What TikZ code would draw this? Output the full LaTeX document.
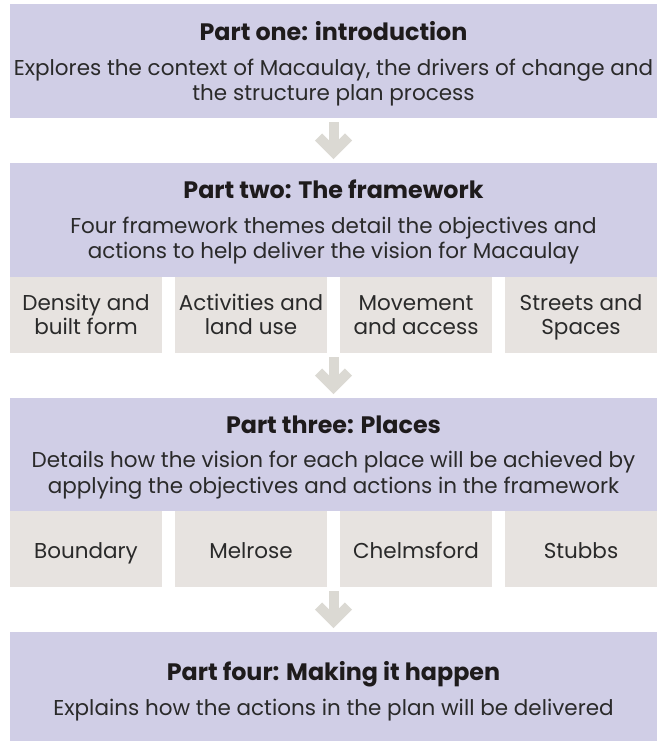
\documentclass[tikz,border=0pt]{standalone}
\usepackage{fontspec}
\setmainfont{Poppins}
\definecolor{lav}{HTML}{D0CEE6}
\definecolor{sub}{HTML}{E7E3E0}
\definecolor{arr}{HTML}{DBD9D3}
\definecolor{txt}{HTML}{2A2A2A}
\definecolor{ttl}{HTML}{1E1B1C}
\tikzset{
  lavbox/.style={fill=lav, draw=none, inner sep=0pt, outer sep=0pt, anchor=north west},
  subbox/.style={fill=sub, draw=none, inner sep=0pt, outer sep=0pt, anchor=north west, minimum width=152pt},
  ttltext/.style={anchor=base, inner sep=0pt, text=ttl, font=\fontsize{23.8}{26}\selectfont\bfseries},
  bodytext/.style={anchor=base, inner sep=0pt, text=txt, font=\fontsize{21.5}{24}\selectfont},
  arrline/.style={draw=arr, line width=10pt, line cap=butt, line join=miter}
}
\begin{document}
\begin{tikzpicture}[x=1pt,y=-1pt]
\useasboundingbox (0,0) rectangle (670,742);
% boxes
\node[lavbox, minimum width=647pt, minimum height=114pt] (b1) at (10,4) {};
\node[lavbox, minimum width=647pt, minimum height=114pt] (b2) at (10,163) {};
\node[subbox, minimum height=76pt] (s21) at (10,277) {};
\node[subbox, minimum height=76pt] (s22) at (175,277) {};
\node[subbox, minimum height=76pt] (s23) at (340,277) {};
\node[subbox, minimum height=76pt] (s24) at (505,277) {};
\node[lavbox, minimum width=647pt, minimum height=113pt] (b3) at (10,398) {};
\node[subbox, minimum height=76pt] (s31) at (10,511) {};
\node[subbox, minimum height=76pt] (s32) at (175,511) {};
\node[subbox, minimum height=76pt] (s33) at (340,511) {};
\node[subbox, minimum height=76pt] (s34) at (505,511) {};
\node[lavbox, minimum width=647pt, minimum height=109pt] (b4) at (10,632) {};
% texts box 1
\node[ttltext] (t1) at (333.5,40) {Part one: introduction};
\node[bodytext] (t1a) at (333.5,75) {Explores the context of Macaulay, the drivers of change and};
\node[bodytext] (t1b) at (333.5,100) {the structure plan process};
% box 2
\node[ttltext] (t2) at (333.5,198) {Part two: The framework};
\node[bodytext] (t2a) at (333.5,233) {Four framework themes detail the objectives and};
\node[bodytext] (t2b) at (333.5,258) {actions to help deliver the vision for Macaulay};
\node[bodytext] at ([yshift=-33pt]s21.north) {Density and};
\node[bodytext] at ([yshift=-57pt]s21.north) {built form};
\node[bodytext] at ([yshift=-33pt]s22.north) {Activities and};
\node[bodytext] at ([yshift=-57pt]s22.north) {land use};
\node[bodytext] at ([yshift=-33pt]s23.north) {Movement};
\node[bodytext] at ([yshift=-57pt]s23.north) {and access};
\node[bodytext] at ([yshift=-33pt]s24.north) {Streets and};
\node[bodytext] at ([yshift=-57pt]s24.north) {Spaces};
% box 3
\node[ttltext] (t3) at (333.5,433) {Part three: Places};
\node[bodytext] (t3a) at (333.5,467) {Details how the vision for each place will be achieved by};
\node[bodytext] (t3b) at (333.5,493) {applying the objectives and actions in the framework};
\node[bodytext] at ([yshift=-47pt]s31.north) {Boundary};
\node[bodytext] at ([yshift=-47pt]s32.north) {Melrose};
\node[bodytext] at ([yshift=-47pt]s33.north) {Chelmsford};
\node[bodytext] at ([yshift=-47pt]s34.north) {Stubbs};
% box 4
\node[ttltext] (t4) at (333.5,680) {Part four: Making it happen};
\node[bodytext] (t4a) at (333.5,715) {Explains how the actions in the plan will be delivered};
% arrows
\coordinate (a1s) at ([yshift=-4pt]b1.south);
\coordinate (a1t) at ([yshift=11pt]b2.north);
\draw[arrline] (a1s) -- (a1t);
\draw[arrline] ([xshift=-15pt,yshift=15pt]a1t) -- (a1t) -- ([xshift=15pt,yshift=15pt]a1t);
\coordinate (a2s) at ([yshift=-4pt]s22.south -| b2.south);
\coordinate (a2t) at ([yshift=11pt]b3.north);
\draw[arrline] (a2s) -- (a2t);
\draw[arrline] ([xshift=-15pt,yshift=15pt]a2t) -- (a2t) -- ([xshift=15pt,yshift=15pt]a2t);
\coordinate (a3s) at ([yshift=-4pt]s32.south -| b3.south);
\coordinate (a3t) at ([yshift=11pt]b4.north);
\draw[arrline] (a3s) -- (a3t);
\draw[arrline] ([xshift=-15pt,yshift=15pt]a3t) -- (a3t) -- ([xshift=15pt,yshift=15pt]a3t);
\end{tikzpicture}
\end{document}
